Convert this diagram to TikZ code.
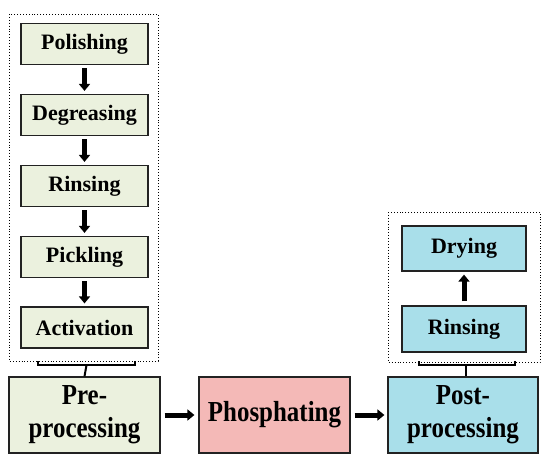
\documentclass[tikz,border=0pt]{standalone}
\usepackage{fontspec}
\setmainfont{Liberation Serif}
\newfontfamily\narrowserif{Liberation Serif}[FakeStretch=0.86]
\usetikzlibrary{arrows.meta,calc}
\definecolor{gfill}{HTML}{EBF1DE}
\definecolor{pfill}{HTML}{F4B9B7}
\definecolor{bfill}{HTML}{A9DFEA}
\definecolor{edge}{HTML}{222222}
\tikzset{
  smallbox/.style={draw=edge, line width=1.2pt, minimum width=127pt, minimum height=41pt, inner sep=0pt, font=\fontsize{22}{26}\selectfont\bfseries},
  bigbox/.style={draw=edge, line width=1.2pt, minimum width=151pt, minimum height=76pt, inner sep=0pt, align=center, font=\narrowserif\fontsize{29}{33}\selectfont\bfseries},
  dotbox/.style={draw=black, dotted, line width=0.9pt},
  blk/.style={line width=5pt, -{Triangle[width=11pt,length=7pt]}, black},
  brk/.style={line width=2pt, black},
}
\begin{document}
\begin{tikzpicture}[x=1pt,y=-1pt]
\useasboundingbox (0,0) rectangle (550,463);
% left dotted group
\draw[dotbox] (9,14) rectangle (158,361);
\node[smallbox, fill=gfill] (pol) at (84.5,44) {Polishing};
\node[smallbox, fill=gfill] (deg) at (84.5,115) {Degreasing};
\node[smallbox, fill=gfill] (rin1) at (84.5,186) {Rinsing};
\node[smallbox, fill=gfill] (pic) at (84.5,257) {Pickling};
\node[smallbox, fill=gfill] (act) at (84.5,327.5) {Activation};
\draw[blk, shorten <=3pt, shorten >=3pt] (pol) -- (deg);
\draw[blk, shorten <=3pt, shorten >=3pt] (deg) -- (rin1);
\draw[blk, shorten <=3pt, shorten >=3pt] (rin1) -- (pic);
\draw[blk, shorten <=3pt, shorten >=3pt] (pic) -- (act);
% big boxes
\node[bigbox, fill=gfill] (pre) at (84.5,415) {Pre-\\processing};
\node[bigbox, fill=pfill] (pho) at (274.5,415) {Phosphating};
\node[bigbox, fill=bfill, minimum width=150pt] (post) at (463,415) {Post-\\processing};
\draw[blk, shorten <=4pt, shorten >=4pt] (pre) -- (pho);
\draw[blk, shorten <=4pt, shorten >=3pt] (pho) -- (post);
% right dotted group
\draw[dotbox] (388,212) rectangle (540,362);
\node[smallbox, fill=bfill, minimum width=124pt, minimum height=45pt] (dry) at (464,248.5) {Drying};
\node[smallbox, fill=bfill, minimum width=124pt, minimum height=46pt] (rin2) at (464,329) {Rinsing};
\draw[blk, shorten <=4pt, shorten >=3pt] (rin2) -- (dry);
% brackets
\coordinate (lb) at (86.5,365);
\draw[brk] (38,361) -- (38,365) -- (135,365) -- (135,361);
\draw[brk] (pre.north) -- (lb);
\coordinate (rb) at (466,365);
\draw[brk] (419,361) -- (419,365) -- (515,365) -- (515,361);
\draw[brk] (post.north -| rb) -- (rb);
\end{tikzpicture}
\end{document}
